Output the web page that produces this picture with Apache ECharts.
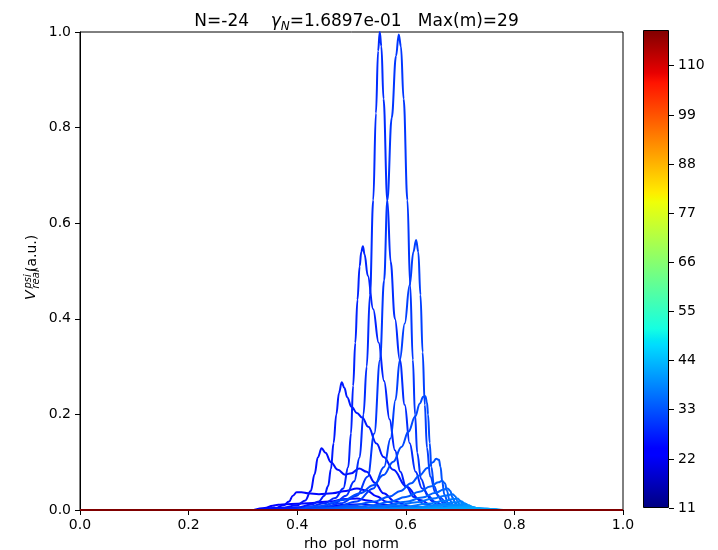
<!DOCTYPE html>
<html><head><meta charset="utf-8">
<script src="https://cdn.jsdelivr.net/npm/echarts@6/dist/echarts.min.js"></script>
<style>html,body{margin:0;padding:0;background:#fff}#c{width:718px;height:550px}</style>
</head><body><div id="c"></div>
<script>
// ---- data ----
const xTicks = [0, 0.2, 0.4, 0.6, 0.8, 1.0];
const yTicks = [0, 0.2, 0.4, 0.6, 0.8, 1.0];
const cbMin = 11, cbMax = 118;
const cbTicks = [11, 22, 33, 44, 55, 66, 77, 88, 99, 110];

const m22 = [[0.34,0],[0.40,0.002],[0.46,0.004],[0.50,0.006],[0.54,0.005],[0.58,0.002],[0.62,0]];
const m23 = [[0.33,0],[0.36,0.004],[0.40,0.005],[0.45,0.007],[0.49,0.011],[0.52,0.012],[0.55,0.008],[0.59,0.003],[0.63,0]];
const m24 = [[0.32,0],[0.34,0.004],[0.355,0.009],[0.365,0.011],[0.38,0.012],[0.42,0.014],[0.46,0.018],[0.49,0.023],[0.51,0.024],[0.53,0.02],[0.56,0.011],[0.60,0.004],[0.65,0]];
const m25 = [[0.33,0],[0.36,0.004],[0.375,0.01],[0.385,0.018],[0.392,0.03],[0.399,0.037],[0.408,0.037],[0.42,0.035],[0.44,0.033],[0.465,0.035],[0.49,0.04],[0.51,0.045],[0.528,0.041],[0.546,0.029],[0.565,0.017],[0.59,0.008],[0.63,0.002],[0.67,0]];
const m26 = [[0.33,0],[0.37,0.004],[0.40,0.01],[0.415,0.02],[0.425,0.04],[0.432,0.075],[0.438,0.11],[0.445,0.129],[0.452,0.12],[0.462,0.1],[0.475,0.084],[0.488,0.074],[0.50,0.077],[0.514,0.087],[0.528,0.08],[0.543,0.057],[0.559,0.035],[0.58,0.018],[0.61,0.007],[0.65,0.002],[0.69,0]];
const m27 = [[0.36,0],[0.40,0.005],[0.425,0.011],[0.44,0.018],[0.45,0.03],[0.457,0.05],[0.462,0.085],[0.467,0.14],[0.472,0.2],[0.477,0.245],[0.482,0.267],[0.487,0.255],[0.492,0.236],[0.50,0.216],[0.51,0.203],[0.52,0.193],[0.531,0.174],[0.546,0.139],[0.559,0.111],[0.577,0.084],[0.601,0.049],[0.626,0.021],[0.65,0.008],[0.68,0.002],[0.71,0]];
const m28 = [[0.38,0],[0.42,0.006],[0.45,0.014],[0.47,0.025],[0.485,0.045],[0.494,0.09],[0.499,0.16],[0.503,0.26],[0.507,0.35],[0.511,0.44],[0.515,0.51],[0.518,0.54],[0.521,0.552],[0.524,0.535],[0.53,0.49],[0.54,0.42],[0.55,0.35],[0.56,0.27],[0.57,0.19],[0.58,0.125],[0.59,0.08],[0.60,0.05],[0.615,0.027],[0.635,0.012],[0.66,0.004],[0.70,0]];
const m29 = [[0.40,0],[0.44,0.006],[0.47,0.015],[0.49,0.03],[0.505,0.06],[0.515,0.11],[0.522,0.2],[0.528,0.3],[0.534,0.45],[0.540,0.648],[0.545,0.83],[0.549,0.96],[0.552,1.0],[0.555,0.97],[0.559,0.86],[0.566,0.648],[0.572,0.52],[0.58,0.4],[0.589,0.314],[0.598,0.22],[0.607,0.14],[0.618,0.08],[0.63,0.045],[0.65,0.018],[0.68,0.005],[0.72,0]];
const m30 = [[0.40,0],[0.45,0.006],[0.48,0.014],[0.51,0.03],[0.53,0.07],[0.542,0.16],[0.5525,0.314],[0.56,0.48],[0.566,0.648],[0.574,0.82],[0.582,0.95],[0.587,0.995],[0.591,0.97],[0.596,0.86],[0.603,0.648],[0.608,0.47],[0.613,0.314],[0.617,0.2],[0.621,0.12],[0.628,0.065],[0.64,0.03],[0.66,0.01],[0.70,0]];
const m31 = [[0.42,0],[0.47,0.006],[0.51,0.018],[0.54,0.045],[0.56,0.09],[0.572,0.15],[0.581,0.23],[0.589,0.314],[0.598,0.39],[0.607,0.47],[0.614,0.54],[0.619,0.565],[0.623,0.54],[0.627,0.45],[0.631,0.33],[0.635,0.22],[0.639,0.13],[0.645,0.07],[0.655,0.035],[0.67,0.014],[0.70,0.003],[0.73,0]];
const m32 = [[0.40,0],[0.44,0.008],[0.485,0.021],[0.516,0.035],[0.54,0.052],[0.559,0.073],[0.577,0.101],[0.592,0.132],[0.605,0.164],[0.617,0.195],[0.626,0.223],[0.632,0.237],[0.636,0.238],[0.639,0.225],[0.641,0.2],[0.644,0.14],[0.647,0.09],[0.652,0.05],[0.66,0.028],[0.68,0.01],[0.72,0]];
const m33 = [[0.42,0],[0.46,0.004],[0.50,0.009],[0.54,0.017],[0.57,0.028],[0.59,0.04],[0.61,0.056],[0.625,0.072],[0.64,0.088],[0.65,0.1],[0.656,0.107],[0.661,0.105],[0.664,0.09],[0.667,0.06],[0.671,0.032],[0.678,0.014],[0.69,0.006],[0.72,0.001],[0.74,0]];
const m34 = [[0.44,0],[0.50,0.005],[0.54,0.01],[0.57,0.017],[0.60,0.027],[0.625,0.038],[0.645,0.049],[0.66,0.058],[0.667,0.061],[0.672,0.056],[0.676,0.04],[0.68,0.022],[0.688,0.01],[0.70,0.004],[0.74,0]];
const m35 = [[0.46,0],[0.52,0.004],[0.56,0.009],[0.60,0.017],[0.63,0.026],[0.655,0.036],[0.67,0.043],[0.677,0.045],[0.682,0.04],[0.686,0.026],[0.692,0.013],[0.70,0.006],[0.72,0.002],[0.75,0]];
const m36 = [[0.48,0],[0.54,0.004],[0.58,0.009],[0.62,0.016],[0.65,0.024],[0.672,0.03],[0.686,0.033],[0.691,0.029],[0.695,0.019],[0.70,0.01],[0.71,0.005],[0.73,0.002],[0.76,0]];
const m37 = [[0.50,0],[0.56,0.003],[0.60,0.007],[0.64,0.013],[0.67,0.019],[0.688,0.023],[0.695,0.024],[0.70,0.02],[0.705,0.012],[0.712,0.006],[0.73,0.002],[0.765,0]];
const m38 = [[0.52,0],[0.58,0.003],[0.62,0.006],[0.66,0.011],[0.69,0.016],[0.703,0.018],[0.708,0.014],[0.714,0.008],[0.725,0.004],[0.745,0.001],[0.77,0]];
const m39 = [[0.54,0],[0.60,0.003],[0.64,0.006],[0.68,0.01],[0.70,0.012],[0.71,0.013],[0.716,0.01],[0.722,0.006],[0.735,0.003],[0.77,0]];
const m40 = [[0.56,0],[0.62,0.002],[0.66,0.005],[0.70,0.008],[0.717,0.009],[0.724,0.006],[0.735,0.003],[0.77,0]];
const m41 = [[0.58,0],[0.64,0.002],[0.68,0.004],[0.71,0.006],[0.724,0.006],[0.73,0.004],[0.745,0.002],[0.775,0]];
const m42 = [[0.60,0],[0.66,0.002],[0.70,0.003],[0.73,0.004],[0.74,0.002],[0.78,0]];
const m118 = [[0,0],[1,0]];

const modeNumbers = [22,23,24,25,26,27,28,29,30,31,32,33,34,35,36,37,38,39,40,41,42,118];
const modeData = [m22,m23,m24,m25,m26,m27,m28,m29,m30,m31,m32,m33,m34,m35,m36,m37,m38,m39,m40,m41,m42,m118];

// ---- jet colormap (matplotlib segment data) ----
function seg(pts, t){
  for (let i=1;i<pts.length;i++){
    if (t <= pts[i][0]){
      const a=pts[i-1], b=pts[i];
      return a[1] + (b[1]-a[1])*(t-a[0])/(b[0]-a[0]);
    }
  }
  return pts[pts.length-1][1];
}
const R=[[0,0],[0.35,0],[0.66,1],[0.89,1],[1,0.5]];
const G=[[0,0],[0.125,0],[0.375,1],[0.64,1],[0.91,0],[1,0]];
const B=[[0,0.5],[0.11,1],[0.34,1],[0.65,0],[1,0]];
function jet(t){
  t=Math.max(0,Math.min(1,t));
  const c=v=>Math.round(v*255);
  return 'rgb('+c(seg(R,t))+','+c(seg(G,t))+','+c(seg(B,t))+')';
}
const mColor = m => jet((m-cbMin)/(cbMax-cbMin));

const stopsAt=[0,0.11,0.125,0.2,0.34,0.35,0.375,0.5,0.64,0.65,0.66,0.78,0.89,0.91,1];
const cbStops = stopsAt.map(t=>({offset:1-t, color:jet(t)})).reverse();

const FONT='DejaVu Sans';
const chart = echarts.init(document.getElementById('c'), null, {renderer:'canvas'});

const lineSeries = modeNumbers.map((m,i)=>({
  type:'line', xAxisIndex:0, yAxisIndex:0,
  data: modeData[i],
  showSymbol:false, symbol:'none',
  smooth:0.4, smoothMonotone:'x',
  clip: m !== 118,
  lineStyle:{width:2, color:mColor(m)},
  itemStyle:{color:mColor(m)},
  silent:true, animation:false, z:3
}));

const option = {
  animation:false,
  backgroundColor:'#fff',
  title:{
    text:'{a|N=-24    }{g|γ}{s|N}{a|=1.6897e-01   Max(m)=29}',
    left:351.5, top:6, textAlign:'center',
    textStyle:{
      fontWeight:'normal',
      rich:{
        a:{fontSize:17, fontFamily:FONT, fontWeight:'normal', color:'#000', lineHeight:22},
        g:{fontSize:17, fontFamily:FONT, fontWeight:'normal', fontStyle:'italic', color:'#000', lineHeight:22},
        s:{fontSize:12, fontFamily:FONT, fontWeight:'normal', fontStyle:'italic', color:'#000', lineHeight:12, verticalAlign:'bottom'}
      }
    }
  },
  grid:[
    {left:80, top:32, width:543, height:478, show:true, borderColor:'#000', borderWidth:1, backgroundColor:'transparent', containLabel:false, outerBoundsMode:'none'},
    {left:643, top:30, width:26, height:478, show:false, containLabel:false, outerBoundsMode:'none'}
  ],
  xAxis:[
    {type:'value', gridIndex:0, min:0, max:1, interval:0.2,
     name:'rho_pol_norm', nameLocation:'middle', nameGap:26,
     nameTextStyle:{fontSize:14, fontFamily:FONT, color:'#000'},
     axisLine:{show:true, onZero:false, lineStyle:{color:'#000', width:1}},
     axisTick:{show:true, inside:false, length:5, lineStyle:{color:'#000', width:1}},
     axisLabel:{fontSize:14, fontFamily:FONT, color:'#000', margin:8, formatter:v=>v.toFixed(1)},
     splitLine:{show:false}},
    {type:'category', gridIndex:1, data:['cb'], show:false, boundaryGap:true}
  ],
  yAxis:[
    {type:'value', gridIndex:0, min:0, max:1, interval:0.2,
     axisLine:{show:true, onZero:false, lineStyle:{color:'#000', width:1}},
     axisTick:{show:true, inside:false, length:5, lineStyle:{color:'#000', width:1}},
     axisLabel:{fontSize:14, fontFamily:FONT, color:'#000', margin:9, formatter:v=>v.toFixed(1)},
     splitLine:{show:false}},
    {type:'value', gridIndex:1, min:cbMin, max:cbMax, position:'right',
     axisLine:{show:false},
     axisTick:{show:true, inside:false, length:5, customValues:cbTicks, lineStyle:{color:'#000', width:1}},
     axisLabel:{fontSize:14, fontFamily:FONT, color:'#000', margin:9, customValues:cbTicks},
     splitLine:{show:false}}
  ],
  graphic:[
    {type:'group', x:35.5, y:266, rotation:Math.PI/2, silent:true, children:[
      {type:'text', x:-34, y:-4.5, style:{text:'V', font:'italic 14px "DejaVu Sans"', fill:'#000', align:'left', verticalAlign:'middle'}},
      {type:'text', x:-22.5, y:-7, style:{text:'psi', font:'italic 10px "DejaVu Sans"', fill:'#000', align:'left', verticalAlign:'middle'}},
      {type:'text', x:-22.5, y:1, style:{text:'real', font:'italic 10px "DejaVu Sans"', fill:'#000', align:'left', verticalAlign:'middle'}},
      {type:'text', x:-6, y:-3, style:{text:'(a.u.)', font:'14px "DejaVu Sans"', fill:'#000', align:'left', verticalAlign:'middle'}}
    ]}
  ],
  series: lineSeries.concat([
    {type:'bar', xAxisIndex:1, yAxisIndex:1, stack:'cb', data:[cbMin], barWidth:'100%', itemStyle:{color:'rgba(0,0,0,0)'}, silent:true},
    {type:'bar', xAxisIndex:1, yAxisIndex:1, stack:'cb', data:[cbMax-cbMin], barWidth:'100%', silent:true,
     itemStyle:{borderColor:'#000', borderWidth:1,
       color:new echarts.graphic.LinearGradient(0,0,0,1, cbStops)}}
  ])
};
chart.setOption(option);
</script>
</body></html>
